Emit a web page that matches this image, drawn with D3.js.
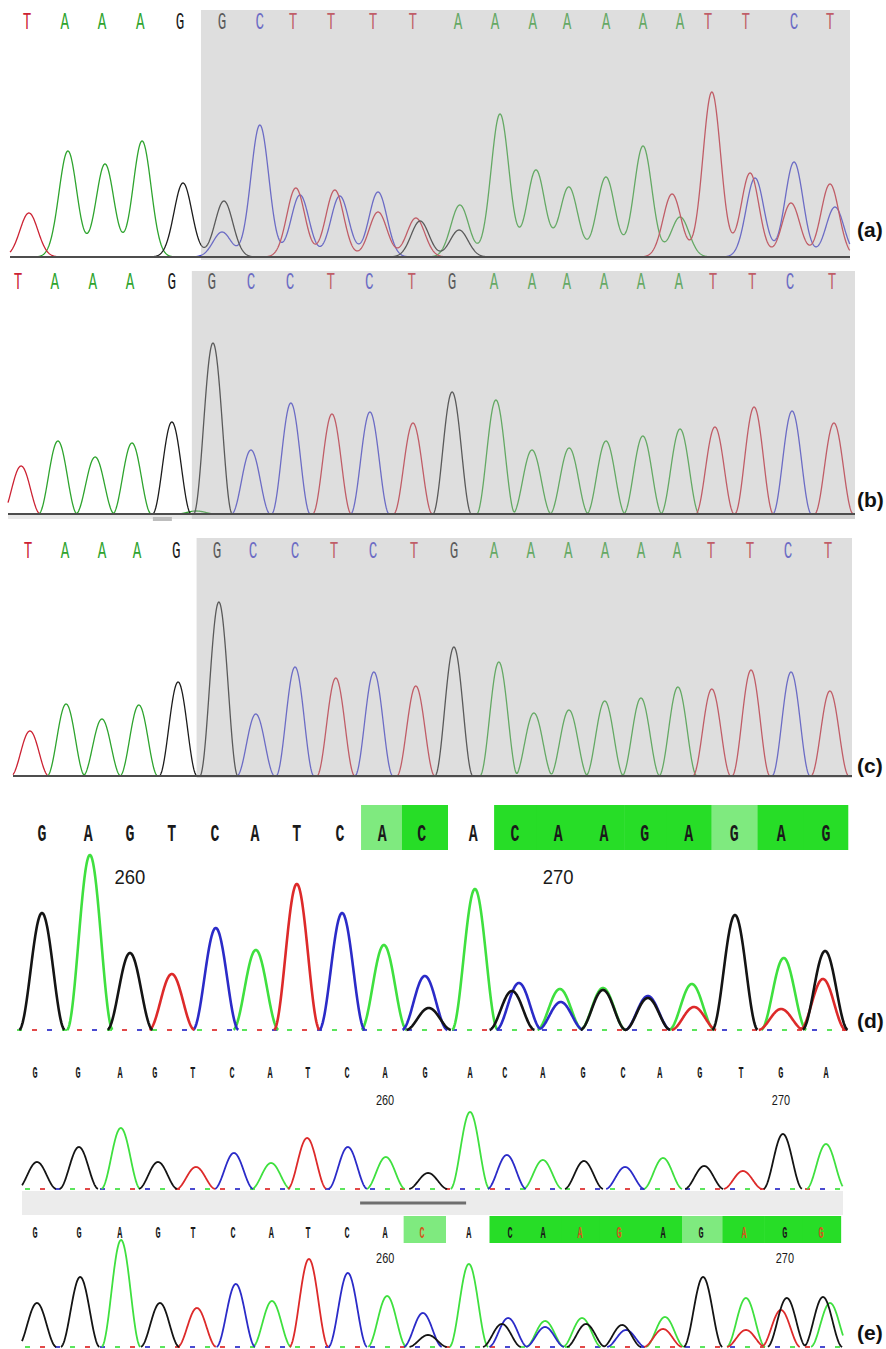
<!DOCTYPE html>
<html>
<head>
<meta charset="utf-8">
<script src="https://cdn.jsdelivr.net/npm/d3@7"></script>
<style>
  body { margin: 0; background: #fff; }
</style>
</head>
<body>
<div id="chart"></div>
<script>
// ---- panel (a) : base calls, call locations (in base units) and peaks [location, height] per dye
var aCalls = "TAAAGGCTTTTAAAAAAATTCT".split("");
var aLoc = [0, 0.99, 1.96, 2.96, 4.00, 5.10, 6.09, 6.96, 7.95, 9.05, 10.09, 11.27, 12.24, 13.23, 14.12, 15.14, 16.11, 17.08, 17.81, 18.80, 20.06, 21.00];
var aA = [[1.07, 106], [2.04, 93], [3.01, 116], [11.32, 52], [12.37, 143], [13.31, 87], [14.17, 70], [15.14, 80], [16.11, 111], [17.08, 40]];
var aC = [[5.10, 25], [6.09, 132], [7.14, 62], [8.18, 61], [9.18, 65], [19.04, 79], [20.06, 95], [21.13, 50]];
var aG = [[4.08, 74], [5.15, 56], [10.28, 36], [11.30, 27]];
var aT = [[0.05, 44], [7.03, 69], [8.05, 67], [9.18, 45], [10.17, 39], [16.87, 63], [17.91, 165], [18.91, 84], [19.98, 54], [21.00, 73]];
var aShadeFrom = 5;

// ---- panel (b)
var bCalls = "TAAAGGCCTCTGAAAAAATTCT".split("");
var bLoc = [0, 0.95, 1.93, 2.89, 3.97, 5.00, 6.01, 7.02, 8.07, 9.06, 10.16, 11.20, 12.28, 13.26, 14.16, 15.12, 16.07, 17.05, 17.93, 18.94, 19.92, 21.00];
var bA = [[1.03, 73], [1.99, 57], [2.94, 71], [4.60, 3], [12.33, 114], [13.26, 64], [14.22, 66], [15.17, 73], [16.12, 78], [17.08, 85]];
var bC = [[6.01, 64], [7.04, 111], [9.08, 102], [19.97, 103]];
var bG = [[3.97, 92], [5.03, 171], [11.20, 122]];
var bT = [[0.08, 48], [8.10, 100], [10.19, 91], [17.98, 87], [18.99, 107], [21.05, 91]];
var bShadeFrom = 5;

// ---- panel (c)
var cCalls = "TAAAGGCCTCTGAAAAAATTCT".split("");
var cLoc = [0, 0.97, 1.94, 2.86, 3.89, 4.96, 5.91, 7.01, 8.03, 9.06, 10.13, 11.18, 12.23, 13.20, 14.18, 15.15, 16.09, 17.04, 17.93, 18.95, 19.95, 21.00];
var cA = [[1.00, 72], [1.94, 57], [2.91, 71], [12.36, 114], [13.28, 63], [14.20, 66], [15.14, 75], [16.09, 78], [17.06, 89]];
var cC = [[5.98, 62], [7.01, 109], [9.08, 104], [20.03, 104]];
var cG = [[3.94, 94], [5.01, 174], [11.18, 129]];
var cT = [[0.05, 45], [8.08, 98], [10.18, 90], [17.95, 87], [18.98, 106], [21.05, 85]];
var cShadeFrom = 5;

// ---- panel (d)
var dCalls = "GAGTCATCACACAAGAGAG".split("");
var dLoc = [0, 1.06, 2.02, 2.98, 3.97, 4.89, 5.85, 6.84, 7.81, 8.72, 9.90, 10.86, 11.85, 12.90, 13.84, 14.85, 15.89, 16.97, 18.00];
var dHi = [0, 0, 0, 0, 0, 0, 0, 0, 1, 2, 0, 2, 2, 2, 2, 2, 1, 2, 2];   // 1 = pale box, 2 = bright box
var dTickIdx = [2, 12];
var dTickLbl = ["260", "270"];
var dA = [[1.10, 175], [4.91, 80], [7.85, 85], [9.94, 141], [11.89, 41], [12.88, 42], [14.92, 46], [17.03, 72]];
var dC = [[3.99, 102], [6.89, 117], [8.79, 54], [10.95, 47], [11.91, 28], [13.91, 34]];
var dG = [[0, 117], [2.02, 77], [8.88, 22], [10.79, 39], [12.88, 40], [13.91, 32], [15.91, 115], [17.98, 79]];
var dT = [[2.98, 56], [5.85, 146], [14.97, 23], [16.97, 21], [17.93, 51]];

// ---- panel (e), upper trace
var e1Calls = "GGAGTCATCAGACAGCAGTGA".split("");
var e1Loc = [0, 1.09, 2.15, 3.03, 3.99, 4.98, 5.94, 6.90, 7.89, 8.85, 9.86, 11.00, 11.88, 12.84, 13.86, 14.87, 15.80, 16.81, 17.85, 18.86, 20.00];
var e1TickIdx = [9, 19];
var e1TickLbl = ["260", "270"];
var e1A = [[2.17, 61], [5.97, 26], [8.87, 32], [11.00, 77], [12.84, 29], [15.88, 31], [20.00, 45]];
var e1C = [[5.03, 36], [7.91, 42], [11.93, 34], [14.92, 22]];
var e1G = [[0.05, 27], [1.11, 42], [3.11, 27], [9.94, 16], [13.88, 28], [16.92, 23], [18.91, 55]];
var e1T = [[4.07, 22], [6.88, 51], [17.90, 18]];

// ---- panel (e), lower trace
var e2Calls = "GGAGTCATCACACAAGAGAGG".split("");
var e2Loc = [0, 1.12, 2.16, 3.13, 4.02, 5.04, 6.01, 6.95, 7.94, 8.91, 9.85, 11.04, 12.09, 12.93, 13.87, 14.86, 15.98, 16.95, 18.04, 19.08, 20.00];
var e2Hi = [0, 0, 0, 0, 0, 0, 0, 0, 0, 0, 1, 0, 2, 2, 2, 2, 2, 1, 2, 2, 2];
var e2Flag = [10, 14, 15, 18, 20];   // calls printed in orange
var e2TickIdx = [9, 19];
var e2TickLbl = ["260", "270"];
var e2A = [[2.19, 107], [6.03, 46], [8.96, 51], [11.04, 83], [12.98, 26], [13.92, 29], [16.03, 30], [18.09, 49], [20.23, 44]];
var e2C = [[5.11, 63], [7.96, 74], [9.87, 34], [12.04, 29], [12.98, 20], [15.04, 17]];
var e2G = [[0.05, 44], [1.15, 70], [3.18, 44], [10.00, 12], [11.88, 23], [14.02, 23], [14.94, 22], [17.00, 70], [19.13, 49], [20.05, 50]];
var e2T = [[4.12, 39], [6.97, 88], [15.98, 18], [18.09, 17], [18.98, 37]];

var abiColor = { A: "#2ea42e", C: "#3b3bd4", G: "#1c1c1c", T: "#cc2233" };
var seqColor = { A: "#3fe03f", C: "#2b2bc8", G: "#141414", T: "#dd2a2a" };
var dyeOrder = ["A", "C", "T", "G"];

var svg = d3.select("#chart")
    .append("svg")
    .attr("width", 886)
    .attr("height", 1349)
    .style("display", "block")
    .style("background", "#fff");

// sum of peaks for one dye, sampled along the trace
function trace(peaks, p, lo, hi) {
    var pts = [];
    for (var t = lo; t <= hi + 1e-9; t += 0.01) {
        var v = 0;
        peaks.forEach(function (pk) {
            var d = t - pk[0];
            if (p.kernel === "gauss") {
                v += pk[1] * Math.exp(-d * d / (2 * p.w * p.w));
            } else if (Math.abs(d) < p.w) {
                v += pk[1] * (1 + Math.cos(Math.PI * d / p.w)) / 2;
            }
        });
        pts.push([t, v]);
    }
    return pts;
}

function drawTraces(g, p, x, y) {
    var lo = x.invert(p.left), hi = x.invert(p.right);
    var line = d3.line()
        .x(function (d) { return x(d[0]); })
        .y(function (d) { return y(d[1]); });
    if (p.cut) line.defined(function (d) { return d[1] > 0.05; });
    dyeOrder.forEach(function (k) {
        g.append("path")
            .datum(trace(p.peaks[k], p, lo, hi))
            .attr("d", line)
            .attr("fill", "none")
            .attr("stroke", p.colors[k])
            .attr("stroke-width", p.lw)
            .attr("stroke-linejoin", "round");
    });
}

function tag(txt, yy) {
    svg.append("text")
        .attr("x", 857).attr("y", yy)
        .attr("font-family", "Liberation Sans, Arial, sans-serif")
        .attr("font-weight", "bold")
        .attr("font-size", 21)
        .attr("fill", "#111")
        .text(txt);
}

// ---------- (a)(b)(c): viewer style with shaded region
function drawAbi(p) {
    var n = p.calls.length;
    var x = d3.scaleLinear().domain([0, n - 1]).range([p.x0, p.x1]);
    var y = d3.scaleLinear().domain([0, 250]).range([p.base, p.base - 250]);
    var g = svg.append("g");

    drawTraces(g, p, x, y);

    g.selectAll("text.call")
        .data(p.calls)
        .enter()
        .append("text")
        .attr("class", "call")
        .attr("transform", function (d, i) { return "translate(" + x(p.loc[i]) + "," + p.letterY + ") scale(0.62,1)"; })
        .attr("text-anchor", "middle")
        .attr("font-family", "Liberation Mono, monospace")
        .attr("font-size", 23)
        .attr("fill", function (d) { return p.colors[d]; })
        .text(function (d) { return d; });

    if (p.strip) {
        g.append("rect")
            .attr("x", p.left).attr("y", p.base + 1)
            .attr("width", p.right - p.left).attr("height", 4)
            .attr("fill", "#e8e8e8");
        g.append("rect")
            .attr("x", x(3.48)).attr("y", p.base + 3)
            .attr("width", x(3.97) - x(3.48)).attr("height", 4)
            .attr("fill", "#bdbdbd");
    }

    // grey region laid over the traces after the mutation point
    var sx = x((p.loc[p.shade - 1] + p.loc[p.shade]) / 2);
    g.append("rect")
        .attr("x", sx).attr("y", p.shadeTop)
        .attr("width", p.right - sx).attr("height", p.shadeBottom - p.shadeTop)
        .attr("fill", "#b0b0b0")
        .attr("opacity", 0.42);

    g.append("line")
        .attr("x1", p.left).attr("x2", p.right)
        .attr("y1", p.base).attr("y2", p.base)
        .attr("stroke", "#4d4d4d")
        .attr("stroke-width", 1.8);

    tag(p.tag, p.tagY);
}

// ---------- (d)(e): sequence editor style
function drawSeq(p) {
    var n = p.calls.length;
    var x = d3.scaleLinear().domain([0, n - 1]).range([p.x0, p.x1]);
    var y = d3.scaleLinear().domain([0, 250]).range([p.base, p.base - 250]);
    var g = svg.append("g");

    function edge(i) {
        if (i < 0) return p.loc[0] - 0.5;
        if (i >= n - 1) return p.loc[n - 1] + 0.5;
        return (p.loc[i] + p.loc[i + 1]) / 2;
    }

    if (p.hi) {
        g.selectAll("rect.hi")
            .data(p.hi.map(function (v, i) { return { v: v, i: i }; }).filter(function (d) { return d.v > 0; }))
            .enter()
            .append("rect")
            .attr("class", "hi")
            .attr("x", function (d) { return x(edge(d.i - 1)); })
            .attr("width", function (d) { return x(edge(d.i)) - x(edge(d.i - 1)) + 0.5; })
            .attr("y", p.boxTop)
            .attr("height", p.boxBottom - p.boxTop)
            .attr("fill", function (d) { return d.v === 2 ? "#27dd27" : "#7fea7f"; });
    }

    g.selectAll("text.call")
        .data(p.calls)
        .enter()
        .append("text")
        .attr("class", "call")
        .attr("transform", function (d, i) { return "translate(" + x(p.loc[i]) + "," + p.letterY + ") scale(" + p.letterSX + ",1)"; })
        .attr("text-anchor", "middle")
        .attr("font-family", "Liberation Mono, monospace")
        .attr("font-weight", "bold")
        .attr("font-size", p.letterSize)
        .attr("fill", function (d, i) { return p.flag && p.flag.indexOf(i) >= 0 ? "#d4561c" : "#1a1a1a"; })
        .text(function (d) { return d; });

    g.selectAll("text.tick")
        .data(p.tickIdx)
        .enter()
        .append("text")
        .attr("class", "tick")
        .attr("transform", function (d) { return "translate(" + x(p.loc[d]) + "," + p.tickY + ") scale(" + p.tickSX + ",1)"; })
        .attr("text-anchor", "middle")
        .attr("font-family", "Liberation Sans, Arial, sans-serif")
        .attr("font-size", p.tickSize)
        .attr("fill", "#1a1a1a")
        .text(function (d, i) { return p.tickLbl[i]; });

    // dashed, multi coloured baseline
    ["A", "T", "C"].forEach(function (k, j) {
        g.append("line")
            .attr("x1", p.left).attr("x2", p.right)
            .attr("y1", p.base).attr("y2", p.base)
            .attr("stroke", p.colors[k])
            .attr("stroke-width", 2)
            .attr("stroke-dasharray", "5 40")
            .attr("stroke-dashoffset", -j * 15 - 3)
            .attr("opacity", 0.85);
    });

    drawTraces(g, p, x, y);
    if (p.tag) tag(p.tag, p.tagY);
    return x;
}

drawAbi({ calls: aCalls, loc: aLoc, peaks: { A: aA, C: aC, G: aG, T: aT }, shade: aShadeFrom,
    x0: 27, x1: 830, left: 10, right: 850, base: 257, letterY: 29, shadeTop: 10, shadeBottom: 260,
    kernel: "gauss", w: 0.235, lw: 1.3, colors: abiColor, tag: "(a)", tagY: 237 });

drawAbi({ calls: bCalls, loc: bLoc, peaks: { A: bA, C: bC, G: bG, T: bT }, shade: bShadeFrom,
    x0: 18, x1: 832, left: 8, right: 855, base: 514, letterY: 289, shadeTop: 271, shadeBottom: 519,
    kernel: "cos", w: 0.5, lw: 1.3, colors: abiColor, strip: true, tag: "(b)", tagY: 507 });

drawAbi({ calls: cCalls, loc: cLoc, peaks: { A: cA, C: cC, G: cG, T: cT }, shade: cShadeFrom,
    x0: 28, x1: 828, left: 13, right: 852, base: 776, letterY: 558, shadeTop: 538, shadeBottom: 778,
    kernel: "cos", w: 0.5, lw: 1.3, colors: abiColor, tag: "(c)", tagY: 773 });

drawSeq({ calls: dCalls, loc: dLoc, hi: dHi, tickIdx: dTickIdx, tickLbl: dTickLbl, peaks: { A: dA, C: dC, G: dG, T: dT },
    x0: 42, x1: 826, left: 14, right: 849, base: 1030, boxTop: 805, boxBottom: 850,
    letterY: 841, letterSize: 24, letterSX: 0.62, tickY: 884, tickSize: 21, tickSX: 0.88,
    kernel: "cos", w: 0.53, lw: 2.6, cut: true, colors: seqColor, tag: "(d)", tagY: 1028 });

var e1x = drawSeq({ calls: e1Calls, loc: e1Loc, tickIdx: e1TickIdx, tickLbl: e1TickLbl, peaks: { A: e1A, C: e1C, G: e1G, T: e1T },
    x0: 35, x1: 826, left: 22, right: 843, base: 1189,
    letterY: 1078, letterSize: 17, letterSX: 0.5, tickY: 1105, tickSize: 14, tickSX: 0.78,
    kernel: "cos", w: 0.5, lw: 1.8, cut: true, colors: seqColor });

// grey scroll strip between the two traces of (e)
svg.append("rect")
    .attr("x", 22).attr("y", 1191)
    .attr("width", 843 - 22).attr("height", 24)
    .attr("fill", "#ececec");
svg.append("line")
    .attr("x1", e1x(8.22)).attr("x2", e1x(10.9))
    .attr("y1", 1203).attr("y2", 1203)
    .attr("stroke", "#6e6e6e")
    .attr("stroke-width", 3);

drawSeq({ calls: e2Calls, loc: e2Loc, hi: e2Hi, flag: e2Flag, tickIdx: e2TickIdx, tickLbl: e2TickLbl, peaks: { A: e2A, C: e2C, G: e2G, T: e2T },
    x0: 35, x1: 821, left: 22, right: 843, base: 1347, boxTop: 1216, boxBottom: 1243,
    letterY: 1238, letterSize: 17, letterSX: 0.5, tickY: 1263, tickSize: 14, tickSX: 0.78,
    kernel: "cos", w: 0.5, lw: 1.8, cut: true, colors: seqColor, tag: "(e)", tagY: 1340 });
</script>
</body>
</html>
